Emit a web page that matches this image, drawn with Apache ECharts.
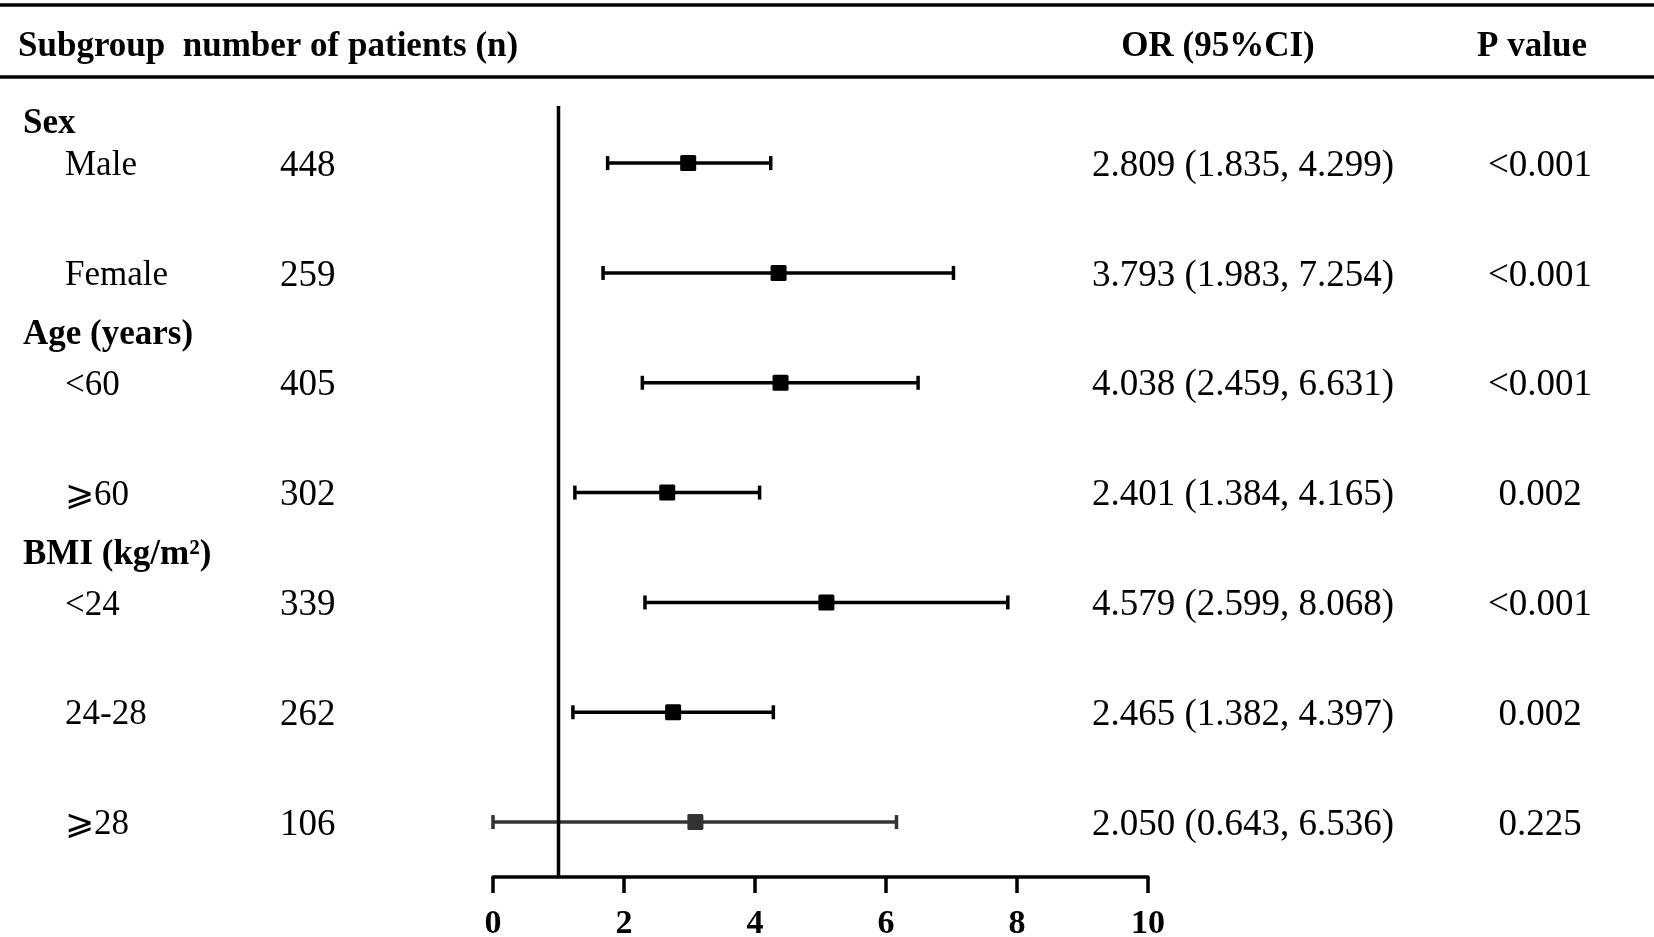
<!DOCTYPE html>
<html>
<head>
<meta charset="utf-8">
<script src="https://cdn.jsdelivr.net/npm/echarts@6/dist/echarts.min.js"></script>
<style>
html,body{margin:0;padding:0;background:#fff;}
#c{width:1654px;height:937px;}
</style>
</head>
<body>
<div id="c"></div>
<script>
// ---------------- data ----------------
const headers = ['Subgroup  number of patients (n)', 'OR (95%CI)', 'P value'];
const groupLabels = ['Sex', 'Age (years)', 'BMI (kg/m²)'];
const groupFirstRow = [0, 2, 4];
const rowLabels = ['Male', 'Female', '<60', '⩾60', '<24', '24-28', '⩾28'];
const nPatients = ['448', '259', '405', '302', '339', '262', '106'];
const orText = [
  '2.809 (1.835, 4.299)',
  '3.793 (1.983, 7.254)',
  '4.038 (2.459, 6.631)',
  '2.401 (1.384, 4.165)',
  '4.579 (2.599, 8.068)',
  '2.465 (1.382, 4.397)',
  '2.050 (0.643, 6.536)'
];
const pText = ['<0.001', '<0.001', '<0.001', '0.002', '<0.001', '0.002', '0.225'];
// plotted positions as drawn in the figure
const plotLow   = [1.75, 1.68, 2.28, 1.25, 2.32, 1.22, 0.00];
const plotPoint = [2.98, 4.36, 4.39, 2.66, 5.09, 2.75, 3.09];
const plotHigh  = [4.24, 7.03, 6.49, 4.07, 7.86, 4.28, 6.16];
const refValue = 1;
const xMin = 0, xMax = 10, xStep = 2;

// ---------------- layout ----------------
const FONT = "'Liberation Serif','Times New Roman',serif";
const FS_HEAD = 35, FS_NAME = 35, FS_NUM = 37;
const TEXT_DY = 3;
const groupOffset = [0.38, 0.46, 0.46];
const nRows = rowLabels.length;
const yMin = 0.5, yMax = 7.52;
const rowPos = rowLabels.map((_, i) => nRows - i);

const chart = echarts.init(document.getElementById('c'));

function renderItem(params, api) {
  const yv = api.value(0);
  const y = api.coord([0, yv])[1];
  const lo = api.coord([api.value(1), yv])[0];
  const pt = api.coord([api.value(2), yv])[0];
  const hi = api.coord([api.value(3), yv])[0];
  const color = params.dataIndex === nRows - 1 ? '#333' : '#000';
  const cap = 7, sq = 8;
  const ls = { stroke: color, lineWidth: 3.5 };
  return {
    type: 'group',
    children: [
      { type: 'line', shape: { x1: lo, y1: y, x2: hi, y2: y }, style: ls },
      { type: 'line', shape: { x1: lo, y1: y - cap, x2: lo, y2: y + cap }, style: ls },
      { type: 'line', shape: { x1: hi, y1: y - cap, x2: hi, y2: y + cap }, style: ls },
      { type: 'rect', shape: { x: pt - sq, y: y - sq, width: sq * 2, height: sq * 2, r: 1.5 }, style: { fill: color } }
    ]
  };
}

const option = {
  animation: false,
  backgroundColor: '#fff',
  grid: { left: 493, top: 106, width: 655, height: 771, containLabel: false, outerBoundsMode: 'none' },
  xAxis: {
    type: 'value', min: xMin, max: xMax, interval: xStep,
    axisLine: { show: true, lineStyle: { color: '#000', width: 3.5 } },
    axisTick: { show: true, length: 16, lineStyle: { color: '#000', width: 3.5 } },
    axisLabel: { color: '#000', fontFamily: FONT, fontWeight: 'bold', fontSize: 34, margin: 30 },
    splitLine: { show: false }
  },
  yAxis: { type: 'value', min: yMin, max: yMax, show: false },
  series: [
    {
      type: 'line',
      data: [[refValue, yMin], [refValue, yMax]],
      symbol: 'none',
      lineStyle: { color: '#000', width: 3.5 },
      silent: true
    },
    {
      type: 'custom',
      renderItem: renderItem,
      encode: { x: [1, 2, 3], y: 0 },
      data: rowPos.map((p, i) => [p, plotLow[i], plotPoint[i], plotHigh[i]])
    }
  ]
};
chart.setOption(option);

function py(v) { return chart.convertToPixel({ yAxisIndex: 0 }, v); }
function txt(text, x, y, size, bold, align) {
  return {
    type: 'text', x: x, y: y, silent: true,
    style: {
      text: text, fill: '#000', font: (bold ? 'bold ' : '') + size + 'px ' + FONT,
      textAlign: align || 'left', textVerticalAlign: 'middle'
    }
  };
}
const g = [];
g.push({ type: 'line', silent: true, shape: { x1: 0, y1: 5, x2: 1654, y2: 5 }, style: { stroke: '#000', lineWidth: 3.5 } });
g.push({ type: 'line', silent: true, shape: { x1: 0, y1: 77, x2: 1654, y2: 77 }, style: { stroke: '#000', lineWidth: 3.5 } });
g.push(txt(headers[0], 18, 47, FS_HEAD, true));
g.push(txt(headers[1], 1218, 47, FS_HEAD, true, 'center'));
g.push(txt(headers[2], 1532, 47, FS_HEAD, true, 'center'));
groupLabels.forEach((lab, k) => {
  g.push(txt(lab, 23, py(rowPos[groupFirstRow[k]] + groupOffset[k]) + TEXT_DY, FS_HEAD, true));
});
rowLabels.forEach((lab, i) => {
  const y = py(rowPos[i]) + TEXT_DY;
  g.push(txt(lab, 65, y, FS_NAME));
  g.push(txt(nPatients[i], 280, y, FS_NUM));
  g.push(txt(orText[i], 1092, y, FS_NUM));
  g.push(txt(pText[i], 1540, y, FS_NUM, false, 'center'));
});
chart.setOption({ graphic: g });
</script>
</body>
</html>
